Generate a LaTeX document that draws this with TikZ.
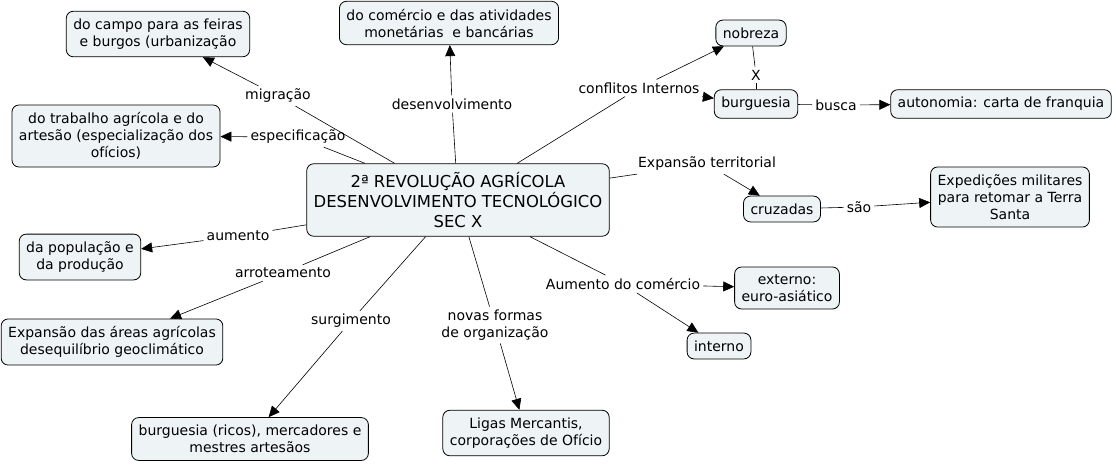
\documentclass[tikz,border=0pt]{standalone}
\usepackage{fontspec}
\setmainfont{DejaVu Sans}
\usepackage{tikz}
\usetikzlibrary{arrows.meta}
\definecolor{CmapFill}{HTML}{EEF4F5}
\definecolor{CmapLine}{HTML}{000000}

\begin{document}
\begin{tikzpicture}[
  x=1pt, y=-1pt,
  concept/.style={draw=CmapLine, fill=CmapFill, rounded corners=7pt,
                  inner xsep=7pt, inner ysep=7.5pt, line width=0.8pt,
                  font=\fontsize{14}{17}\selectfont, align=center},
  root/.style={concept, font=\fontsize{16.4}{20}\selectfont, inner xsep=7pt, inner ysep=8.5pt},
  phrase/.style={font=\fontsize{14}{17}\selectfont, align=center, inner sep=3pt},
  arrow/.style={-{Triangle[length=11pt,width=10pt]}, line width=0.6pt},
  link/.style={line width=0.6pt}
]
  \useasboundingbox (0,0) rectangle (1116,464);

  % concepts
  \node[root]    (main)     at (458,200)  {2ª REVOLUÇÃO AGRÍCOLA\\DESENVOLVIMENTO TECNOLÓGICO\\SEC X};
  \node[concept] (campo)    at (158,34)   {do campo para as feiras\\e burgos (urbanização};
  \node[concept] (comercio) at (449,23)   {do comércio e das atividades\\monetárias\ \ e bancárias};
  \node[concept] (trabalho) at (116,136)  {do trabalho agrícola e do\\artesão (especialização dos\\ofícios)};
  \node[concept] (nobreza)  at (751,33)   {nobreza};
  \node[concept] (burg)     at (756,104)  {burguesia};
  \node[concept] (autonom)  at (1001,104) {autonomia: carta de franquia};
  \node[concept] (cruzadas) at (782,209)  {cruzadas};
  \node[concept] (exped)    at (1010,197) {Expedições militares\\para retomar a Terra\\Santa};
  \node[concept] (popul)    at (80,257)   {da população e\\da produção};
  \node[concept] (externo)  at (787,288)  {externo:\\euro-asiático};
  \node[concept] (interno)  at (719,346)  {interno};
  \node[concept] (areas)    at (112,342)  {Expansão das áreas agrícolas\\desequilíbrio geoclimático};
  \node[concept] (ricos)    at (250,439)  {burguesia (ricos), mercadores e\\mestres artesãos};
  \node[concept] (ligas)    at (526,433)  {Ligas Mercantis,\\corporações de Ofício};

  % linking phrases
  \node[phrase] (migr)   at (278,96)  {migração};
  \node[phrase] (desenv) at (452,104) {desenvolvimento};
  \node[phrase] (confl)  at (639,88)  {conflitos Internos};
  \node[phrase] (espec)  at (298,137) {especificação};
  \node[phrase] (expter) at (707,164) {Expansão territorial};
  \node[phrase] (busca)  at (836,105) {busca};
  \node[phrase] (versus) at (756,75)  {X};
  \node[phrase] (sao)    at (859,207) {são};
  \node[phrase] (aum)    at (238,236) {aumento};
  \node[phrase] (arrot)  at (283,273) {arroteamento};
  \node[phrase] (aumcom) at (623,284) {Aumento do comércio};
  \node[phrase] (surg)   at (351,321) {surgimento};
  \node[phrase] (novas)  at (495,325) {novas formas\\de organização};

  \draw[link]  (main) -- (migr);
  \draw[arrow] (migr) -- (campo);
  \draw[link]  (main) -- (desenv);
  \draw[arrow] (desenv) -- (comercio);
  \draw[link]  (main) -- (confl);
  \draw[arrow] (confl) -- (nobreza);
  \draw[arrow] (confl) -- (burg);
  \draw[link]  (main) -- (espec);
  \draw[arrow] (espec) -- (trabalho);
  \draw[link]  (nobreza) -- (versus);
  \draw[link]  (versus) -- (burg);
  \draw[link]  (burg) -- (busca);
  \draw[arrow] (busca) -- (autonom);
  \draw[link]  (main) -- (expter);
  \draw[arrow] (expter) -- (cruzadas);
  \draw[link]  (cruzadas) -- (sao);
  \draw[arrow] (sao) -- (exped);
  \draw[link]  (main) -- (aum);
  \draw[arrow] (aum) -- (popul);
  \draw[link]  (main) -- (arrot);
  \draw[arrow] (arrot) -- (areas);
  \draw[link]  (main) -- (aumcom);
  \draw[arrow] (aumcom) -- (externo);
  \draw[arrow] (aumcom) -- (interno);
  \draw[link]  (main) -- (surg);
  \draw[arrow] (surg) -- (ricos);
  \draw[link]  (main) -- (novas);
  \draw[arrow] (novas) -- (ligas);
\end{tikzpicture}
\end{document}
